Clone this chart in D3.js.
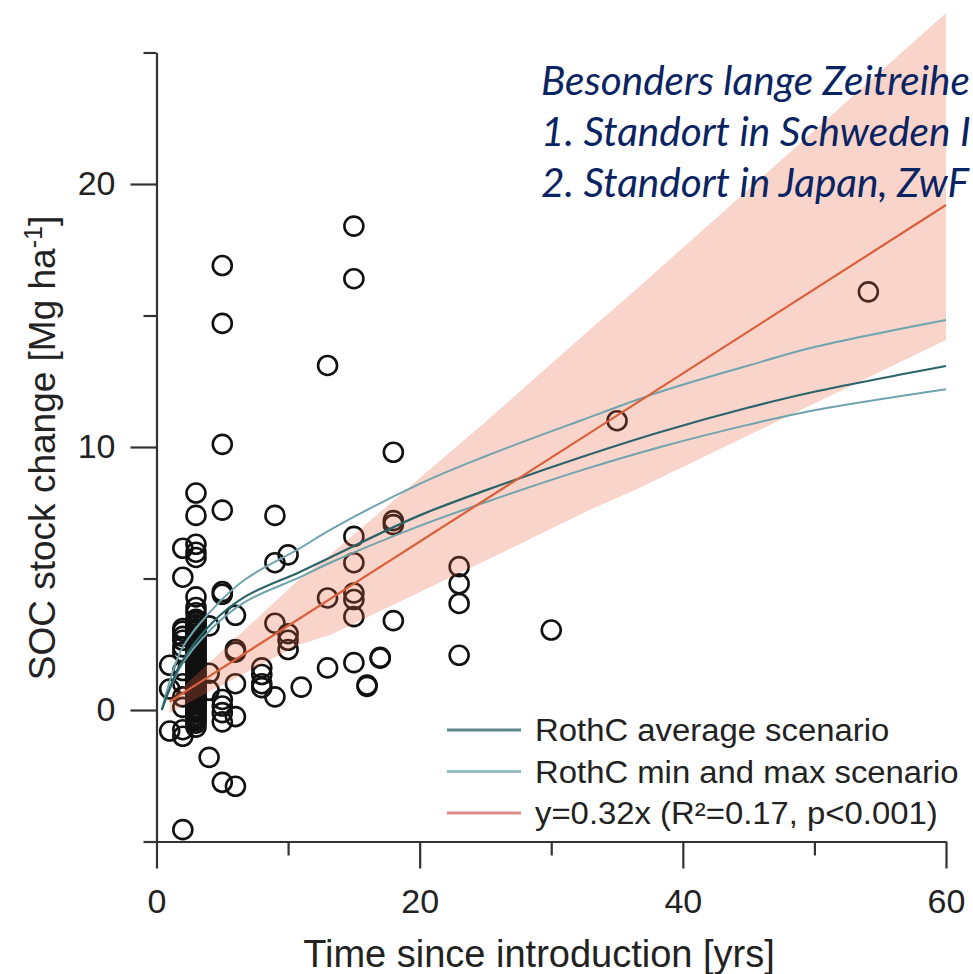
<!DOCTYPE html>
<html>
<head>
<meta charset="utf-8">
<script src="https://cdn.jsdelivr.net/npm/d3@7"></script>
<style>
  body { margin: 0; background: #fff; }
  svg { display: block; }
</style>
</head>
<body>
<svg id="chart"></svg>
<script>
'use strict';

// observed SOC stock changes (years since introduction, Mg/ha)
var pointYears = [
    5, 5, 15, 15, 13, 5, 18, 35, 54.1,
    3, 3, 5, 9, 18, 18,
    2, 3, 3, 3, 2, 9, 10, 15, 15,
    23, 23, 23, 23, 30, 18, 13, 15, 15, 15,
    5, 5, 6, 9, 10, 10, 10, 6, 6,
    13, 15, 17, 17, 16, 16, 11, 8, 8, 8, 8, 9,
    6, 6, 5, 5, 5, 5, 4, 5, 6, 2,
    1, 1, 1, 2, 2, 4, 4, 4,
    2, 2, 2, 2, 2, 2, 2, 2, 2, 2,
    3, 3, 3,
    3, 3, 3, 3, 3, 3, 3, 3, 3, 3, 3, 3, 3, 3, 3, 3, 3, 3, 3, 3,
    3, 3, 3, 3, 3, 3, 3, 3, 3, 3, 3, 3, 3, 3, 3, 3, 3, 3, 3, 3,
    3, 3, 3, 3, 3, 3, 3, 3, 3, 3, 3, 3, 3, 3, 3, 3, 3, 3, 3, 3
];
var pointSOC = [
    16.9, 14.7, 18.4, 16.4, 13.1, 10.1, 9.8, 11.0, 15.9,
    8.25, 7.4, 7.6, 7.4, 7.2, 7.05,
    6.15, 6.3, 6.0, 5.8, 5.05, 5.6, 5.9, 6.6, 5.6,
    5.45, 4.8, 4.05, 2.08, 3.04, 3.4, 4.26, 4.45, 4.2, 3.55,
    4.5, 4.4, 3.6, 3.3, 2.9, 2.65, 2.3, 2.3, 2.2,
    1.6, 1.8, 1.97, 2.0, 0.95, 0.9, 0.87, 1.6, 1.35, 1.0, 0.85, 0.5,
    1.0, -0.25, 0.4, 0.15, -0.1, -0.45, -1.8, -2.75, -2.9, -4.55,
    1.7, 0.8, -0.8, -1.0, -0.75, 3.2, 1.4, 0.75,
    3.1, 2.8, 2.65, 2.2, 1.5, 1.0, 0.5, 0.1, 2.4, 3.0,
    4.3, 3.9, 3.7,
    3.45, 3.35, 3.2, 3.1, 3.0, 2.9, 2.75, 2.6, 2.5, 2.4, 2.3, 2.15, 2.05, 1.95, 1.85, 1.7, 1.6, 1.5, 1.4, 1.3,
    1.2, 1.1, 1.0, 0.9, 0.8, 0.7, 0.6, 0.5, 0.4, 0.3, 0.2, 0.1, 0.0, -0.1, -0.2, -0.3, -0.4, -0.5, -0.65, 0.05,
    3.4, 3.25, 3.05, 2.85, 2.7, 2.55, 2.35, 2.2, 2.0, 1.8, 1.65, 1.45, 1.25, 1.05, 0.85, 0.65, 0.45, 0.25, -0.05, -0.35
];

// RothC model scenarios
var curveYears = [0.4, 1.9, 4.2, 6.7, 10.9, 13.2, 20, 25, 32.2, 38.3, 45, 50, 60];
var rothAvg = [0, 1.8, 3.3, 4.3, 5.25, 5.8, 7.4, 8.35, 9.6, 10.57, 11.5, 12.1, 13.08];
var rothMin = [0, 1.7, 3.1, 4.1, 5.05, 5.6, 7.0, 7.9, 9.1, 10.0, 10.85, 11.4, 12.2];
var rothMax = [0, 2.3, 3.8, 4.95, 6.15, 6.85, 8.6, 9.65, 11.0, 12.1, 13.1, 13.8, 14.83];

// linear fit y = 0.32x and its band
var fitYears = [1, 60];
var fitValues = [0.32, 19.2];
var bandYears = [1, 10.9, 13.2, 25.1, 32.9, 36.7, 60];
var bandLower = [-0.1, 2.5, 2.85, 5.7, 7.6, 8.44, 14.07];
var bandUpper = [0.4, 5.0, 5.9, 11.0, 14.45, 16.1, 26.5];

var xMajor = [0, 20, 40, 60];
var xMinor = [10, 30, 50];
var yMajor = [0, 10, 20];
var yMinor = [-5, 5, 15, 25];

var legendLabels = ['RothC average scenario', 'RothC min and max scenario', 'y=0.32x (R\u00b2=0.17, p<0.001)'];
var legendColors = ['#5f8a8d', '#97bcc2', '#d98c88'];

var noteLines = ['Besonders lange Zeitreihe', '1. Standort in Schweden I', '2. Standort in Japan, ZwF'];

var width = 973, height = 974;
var font = '"Liberation Sans", Arial, sans-serif';

var svg = d3.select('#chart')
    .attr('width', width)
    .attr('height', height)
    .style('background-color', '#fff');

var x = d3.scaleLinear().domain([0, 60]).range([156.5, 946]);
var y = d3.scaleLinear().domain([-5, 25]).range([841.5, 52.5]);

function styleAxis(g) {
    g.selectAll('path, line').attr('stroke', '#333').attr('stroke-width', 2.2);
    g.selectAll('text').attr('font-family', font).attr('font-size', 34).attr('fill', '#222');
}

// y axis
svg.append('g')
    .attr('transform', 'translate(' + x(0) + ',0)')
    .call(d3.axisLeft(y).tickValues(yMajor).tickSize(26).tickSizeOuter(0).tickPadding(15))
    .call(styleAxis);
svg.append('g')
    .attr('transform', 'translate(' + x(0) + ',0)')
    .call(d3.axisLeft(y).tickValues(yMinor).tickSize(13).tickSizeOuter(0).tickFormat(''))
    .call(styleAxis)
    .select('.domain').remove();

// x axis
svg.append('g')
    .attr('transform', 'translate(0,' + y(-5) + ')')
    .call(d3.axisBottom(x).tickValues(xMajor).tickSize(27).tickSizeOuter(0).tickPadding(20))
    .call(styleAxis);
svg.append('g')
    .attr('transform', 'translate(0,' + y(-5) + ')')
    .call(d3.axisBottom(x).tickValues(xMinor).tickSize(14).tickSizeOuter(0).tickFormat(''))
    .call(styleAxis)
    .select('.domain').remove();

// axis titles
svg.append('text')
    .attr('x', 539)
    .attr('y', 967)
    .attr('text-anchor', 'middle')
    .attr('font-family', font)
    .attr('font-size', 38)
    .attr('fill', '#222')
    .text('Time since introduction [yrs]');

var yTitle = svg.append('text')
    .attr('transform', 'translate(55,448) rotate(-90)')
    .attr('text-anchor', 'middle')
    .attr('font-family', font)
    .attr('font-size', 37)
    .attr('fill', '#222');
yTitle.append('tspan').text('SOC stock change [Mg ha');
yTitle.append('tspan').attr('dy', -13).attr('font-size', 25).text('-1');
yTitle.append('tspan').attr('dy', 13).text(']');

// points
var points = pointYears.map(function (d, i) { return { year: d, soc: pointSOC[i] }; });
svg.append('g')
    .selectAll('circle')
    .data(points)
    .enter()
    .append('circle')
    .attr('cx', function (d) { return x(d.year); })
    .attr('cy', function (d) { return y(d.soc); })
    .attr('r', 9.5)
    .attr('fill', 'none')
    .attr('stroke', '#111')
    .attr('stroke-width', 2.6);

// confidence band of the fit
var band = bandYears.map(function (d, i) { return { year: d, lo: bandLower[i], hi: bandUpper[i] }; });
svg.append('path')
    .datum(band)
    .attr('d', d3.area()
        .x(function (d) { return x(d.year); })
        .y0(function (d) { return y(d.lo); })
        .y1(function (d) { return y(d.hi); }))
    .attr('fill', 'rgb(232,96,62)')
    .attr('fill-opacity', 0.27);

// model curves
var line = d3.line()
    .x(function (d) { return x(d[0]); })
    .y(function (d) { return y(d[1]); })
    .curve(d3.curveCatmullRom.alpha(0.5));

function drawCurve(values, color, w) {
    svg.append('path')
        .datum(curveYears.map(function (d, i) { return [d, values[i]]; }))
        .attr('d', line)
        .attr('fill', 'none')
        .attr('stroke', color)
        .attr('stroke-width', w);
}
drawCurve(rothMax, '#6fa4ad', 2);
drawCurve(rothMin, '#6fa4ad', 2);
drawCurve(rothAvg, '#2a6468', 2.2);

// regression line
svg.append('path')
    .datum(fitYears.map(function (d, i) { return [d, fitValues[i]]; }))
    .attr('d', d3.line().x(function (d) { return x(d[0]); }).y(function (d) { return y(d[1]); }))
    .attr('fill', 'none')
    .attr('stroke', '#d9603b')
    .attr('stroke-width', 2.2);

// legend
var legend = svg.append('g').attr('transform', 'translate(447,730)');
var rows = legend.selectAll('g')
    .data(legendLabels)
    .enter()
    .append('g')
    .attr('transform', function (d, i) { return 'translate(0,' + (i * 41.5) + ')'; });
rows.append('line')
    .attr('x1', 0).attr('x2', 74)
    .attr('y1', 0).attr('y2', 0)
    .attr('stroke', function (d, i) { return legendColors[i]; })
    .attr('stroke-width', 3);
rows.append('text')
    .attr('transform', 'translate(88,11) scale(1.06,1)')
    .attr('font-family', font)
    .attr('font-size', 31)
    .attr('fill', '#222')
    .text(function (d) { return d; });

// annotation
svg.append('g')
    .selectAll('text')
    .data(noteLines)
    .enter()
    .append('text')
    .attr('x', 541)
    .attr('y', function (d, i) { return 95 + i * 51; })
    .attr('font-family', 'Lato, "Open Sans", sans-serif')
    .attr('font-style', 'italic')
    .attr('font-size', 40.5)
    .attr('fill', '#0a2463')
    .text(function (d) { return d; });
</script>
</body>
</html>
